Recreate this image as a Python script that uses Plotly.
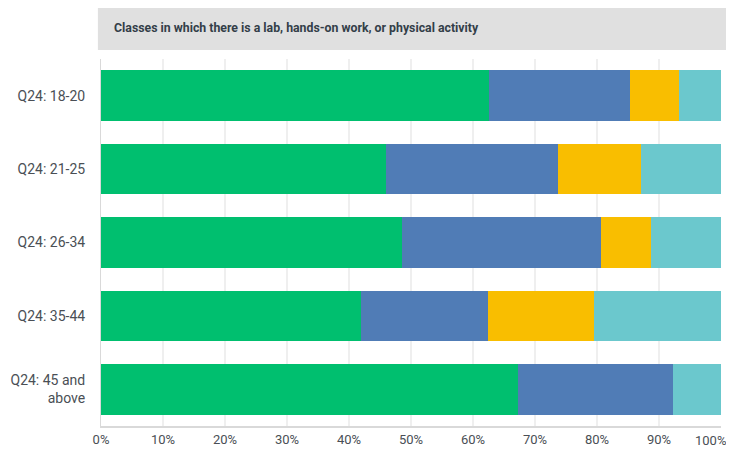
import plotly.graph_objects as go

# Age groups, top to bottom as shown
categories = ["Q24: 18-20", "Q24: 21-25", "Q24: 26-34", "Q24: 35-44", "Q24: 45 and<br>above"]

# Share of answers per age group (percent)
series_names = ["Series 1", "Series 2", "Series 3", "Series 4"]
green = [62.6, 45.9, 48.5, 41.9, 67.2]
blue = [22.7, 27.8, 32.1, 20.5, 25.1]
yellow = [7.9, 13.4, 8.1, 17.1, 0.0]
teal = [6.8, 12.9, 11.3, 20.5, 7.7]

tick_vals = [0, 10, 20, 30, 40, 50, 60, 70, 80, 90, 100]
tick_text = ["0%", "10%", "20%", "30%", "40%", "50%", "60%", "70%", "80%", "90%", "100%"]

title_text = "Classes in which there is a lab, hands-on work, or physical activity"

colors = ["#00BF6F", "#507CB6", "#F9BE00", "#6BC8CD"]

fig = go.Figure()
for name, vals, col in zip(series_names, [green, blue, yellow, teal], colors):
    fig.add_trace(go.Bar(
        y=categories, x=vals, name=name, orientation="h",
        marker=dict(color=col, line=dict(width=0)),
    ))

# the page body has an 8px margin, so the figure is a bit smaller than the window
fig.update_layout(
    barmode="stack",
    bargap=0.31,
    width=726, height=445,
    margin=dict(l=93, r=13, t=51, b=27),
    plot_bgcolor="white", paper_bgcolor="white",
    showlegend=False,
    font=dict(family="Roboto", size=13, color="#4a4f55"),
)

# last tick label would be clipped at the right edge, so it is drawn
# as a right-anchored annotation at the same axis value instead
fig.update_xaxes(
    range=[0, 100], tickvals=tick_vals, ticktext=tick_text[:-1] + [""],
    showgrid=True, gridcolor="#efefef", gridwidth=2,
    showline=True, linecolor="#d9d9d9", linewidth=2,
    zeroline=False, automargin=False,
    tickfont=dict(size=13, color="#4a4f55"),
)
fig.add_annotation(xref="x", yref="paper", x=tick_vals[-1], y=0,
                   xanchor="right", yanchor="middle", xshift=7, yshift=-14,
                   showarrow=False, text=tick_text[-1],
                   font=dict(size=13, color="#4a4f55"))

fig.update_yaxes(
    categoryorder="array", categoryarray=categories[::-1],
    showline=True, linecolor="#d9d9d9", linewidth=1,
    showgrid=False, ticklabelstandoff=12, automargin=False,
    tickfont=dict(size=14, color="#4a4f55"),
)

# grey title band above the plot
fig.add_shape(type="rect", xref="paper", yref="paper",
              x0=-0.005, x1=1.03, y0=1.0245, y1=1.139,
              fillcolor="#e0e0e0", line=dict(width=0), layer="below")
fig.add_annotation(xref="paper", yref="paper", x=0.018, y=1.085,
                   xanchor="left", yanchor="middle", showarrow=False,
                   text="<b>" + title_text + "</b>",
                   font=dict(family="Roboto", size=12.3, color="#333e48"))

fig.write_html("out.html")
